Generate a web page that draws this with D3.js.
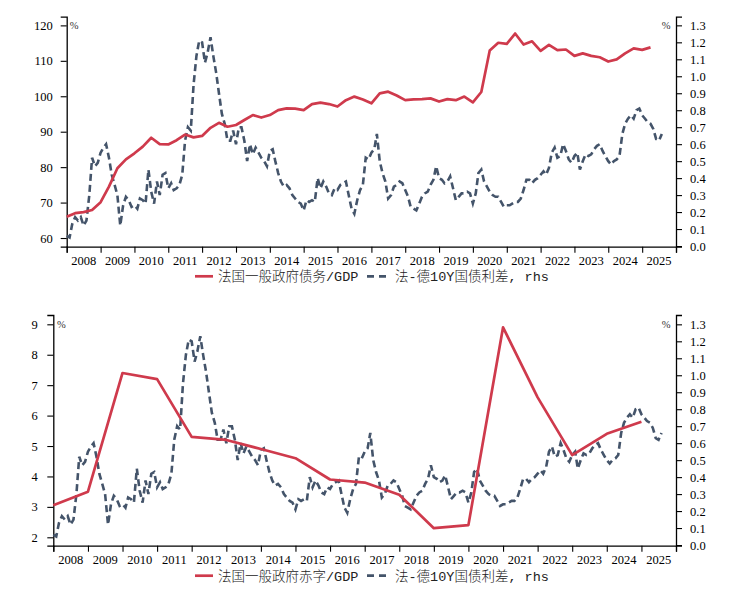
<!DOCTYPE html>
<html><head><meta charset="utf-8">
<script src="https://cdn.jsdelivr.net/npm/d3@7"></script>
<style>
html,body{margin:0;padding:0;background:#fff;}
svg{display:block;}
</style></head>
<body>
<svg id="chart" width="737" height="591"></svg>
<script>
// ---------- DATA ----------
const yearTicks = d3.range(2008, 2027);           // year boundaries
const yearLabels = d3.range(2008, 2026).map(String);

// 法国一般政府债务/GDP, quarterly from 2008Q1
const debtStart = "2008Q1";
const debtValues = [66.0,67.0,67.3,67.9,70.1,74.5,79.7,82.2,83.9,85.8,88.3,86.5,86.4,87.6,89.2,88.4,
  88.8,91.1,92.5,91.4,91.9,93.3,94.7,94.0,94.7,96.1,96.6,96.5,96.1,97.8,98.2,97.8,
  97.1,98.9,99.9,99.1,98.0,100.8,101.3,100.2,98.9,99.1,99.2,99.4,98.5,99.2,98.9,99.9,
  98.3,101.2,112.9,115.1,114.8,117.7,114.6,115.5,112.8,114.5,113.0,113.2,111.4,112.1,
  111.4,111.0,109.8,110.4,112.1,113.5,113.1,113.8];

// 法-德10Y国债利差, monthly from 2008-01
const spreadStart = "2008-01";
const spreadValues = [0.06,0.05,0.13,0.17,0.15,0.17,0.12,0.15,0.30,0.52,0.47,0.49,
  0.55,0.58,0.60,0.52,0.42,0.36,0.30,0.12,0.24,0.29,0.27,0.23,
  0.24,0.22,0.28,0.27,0.25,0.45,0.32,0.25,0.38,0.30,0.42,0.43,
  0.34,0.37,0.33,0.34,0.36,0.42,0.62,0.70,0.68,0.95,1.12,1.21,
  1.20,1.08,1.14,1.23,1.12,1.02,0.90,0.78,0.72,0.62,0.62,0.68,
  0.60,0.70,0.70,0.62,0.50,0.60,0.54,0.58,0.55,0.52,0.50,0.47,
  0.56,0.57,0.50,0.43,0.38,0.35,0.36,0.34,0.30,0.28,0.26,0.25,
  0.21,0.27,0.26,0.27,0.26,0.40,0.34,0.38,0.35,0.31,0.30,0.34,
  0.33,0.36,0.37,0.38,0.30,0.22,0.19,0.27,0.33,0.36,0.52,0.51,
  0.55,0.57,0.66,0.50,0.43,0.38,0.28,0.30,0.35,0.36,0.38,0.37,
  0.33,0.29,0.23,0.22,0.21,0.25,0.29,0.31,0.32,0.36,0.39,0.47,
  0.40,0.39,0.37,0.38,0.41,0.34,0.27,0.29,0.31,0.31,0.32,0.31,
  0.25,0.31,0.43,0.45,0.38,0.35,0.32,0.30,0.29,0.29,0.26,0.23,
  0.24,0.24,0.25,0.26,0.26,0.28,0.33,0.39,0.39,0.37,0.39,0.40,
  0.42,0.44,0.42,0.46,0.55,0.58,0.52,0.53,0.60,0.56,0.51,0.49,
  0.53,0.55,0.45,0.50,0.54,0.53,0.54,0.57,0.59,0.60,0.56,0.53,
  0.50,0.48,0.50,0.51,0.53,0.66,0.72,0.75,0.77,0.75,0.80,0.81,
  0.77,0.75,0.73,0.72,0.69,0.63,0.62,0.66];

// 法国一般政府赤字/GDP, annual points
const deficitYears = d3.range(2008, 2026);
const deficitValues = [3.05,3.5,7.4,7.2,5.3,5.2,4.9,4.6,3.9,3.8,3.4,2.3,2.4,8.9,6.6,4.7,5.4,5.8];

const leftTicksTop = [60,70,80,90,100,110,120];
const leftTicksBot = [2,3,4,5,6,7,8,9];
const rightTicks = d3.range(0, 14).map(d => d / 10);

const legendTop = ["法国一般政府债务/GDP", "法-德10Y国债利差, rhs"];
const legendBot = ["法国一般政府赤字/GDP", "法-德10Y国债利差, rhs"];

// ---------- BUILD ----------
const RED = "#cf3a4c", NAVY = "#44546a";
const svg = d3.select("#chart");
const q0 = +debtStart.slice(0,4);
const debtData = debtValues.map((v,i) => ({d: new Date(q0, 3*i, 1), v}));
const s0 = +spreadStart.slice(0,4), sm0 = +spreadStart.slice(5) - 1;
const spreadData = spreadValues.map((v,i) => ({d: new Date(s0, sm0 + i, 1), v}));
const deficitData = deficitYears.map((y,i) => ({d: new Date(y,0,1), v: deficitValues[i]}));

function panel(cfg) {
  const g = svg.append("g");
  const x = d3.scaleTime().domain([new Date(2008,0,1), new Date(2026,0,1)]).range([cfg.x0, cfg.x1]);
  const yL = d3.scaleLinear().domain(cfg.lDom).range([cfg.yb, cfg.yt]);
  const yR = d3.scaleLinear().domain(cfg.rDom).range([cfg.yb, cfg.yt]);

  const la = g.append("g").attr("transform", `translate(${cfg.x0},0)`)
    .call(d3.axisLeft(yL).tickValues(cfg.lTicks).tickSize(6).tickPadding(cfg.lPad).tickFormat(d3.format("d")));
  const ra = g.append("g").attr("transform", `translate(${cfg.x1},0)`)
    .call(d3.axisRight(yR).tickValues(rightTicks).tickSize(6).tickPadding(8).tickFormat(d3.format(".1f")));
  const ba = g.append("g").attr("transform", `translate(0,${cfg.yb})`)
    .call(d3.axisBottom(x).tickValues(yearTicks.map(y => new Date(y,0,1))).tickSize(6).tickFormat(""));
  [la, ra, ba].forEach(a => {
    a.selectAll("path.domain").attr("stroke", "#000").attr("stroke-width", 1.3);
    a.selectAll(".tick line").attr("stroke", "#000").attr("stroke-width", 1.1);
    a.selectAll("text").attr("font-family", "'Liberation Serif', 'Times New Roman', serif")
      .attr("font-size", 12.5).attr("fill", "#000");
  });
  g.append("g").selectAll("text").data(yearLabels).join("text")
    .attr("x", d => (x(new Date(+d,0,1)) + x(new Date(+d+1,0,1))) / 2)
    .attr("y", cfg.yb + 14).attr("dy", "0.35em").attr("text-anchor", "middle")
    .attr("font-family", "'Liberation Serif', 'Times New Roman', serif").attr("font-size", 12.5)
    .text(d => d);

  g.append("text").attr("x", cfg.x0 + cfg.pctOff).attr("y", yL(cfg.lTicks[cfg.lTicks.length-1])).attr("dy", "0.35em")
    .attr("text-anchor", "middle").attr("font-size", 10.5).attr("font-family", "'Liberation Serif', serif").attr("fill", "#333").text("%");
  g.append("text").attr("x", cfg.x1 - 10).attr("y", yR(1.3)).attr("dy", "0.35em")
    .attr("text-anchor", "middle").attr("font-size", 10.5).attr("font-family", "'Liberation Serif', serif").attr("fill", "#333").text("%");

  g.append("path").datum(spreadData)
    .attr("fill", "none").attr("stroke", NAVY).attr("stroke-width", 2.6)
    .attr("stroke-dasharray", "7,4")
    .attr("d", d3.line().x(d => x(d.d)).y(d => yR(d.v)));
  g.append("path").datum(cfg.main)
    .attr("fill", "none").attr("stroke", RED).attr("stroke-width", 2.7).attr("stroke-linejoin", "round")
    .attr("d", d3.line().x(d => x(d.d)).y(d => yL(d.v)));

  const ly = cfg.legY;
  const lg = g.append("g").attr("font-family", "'Liberation Mono', 'Noto Sans CJK SC', monospace")
    .attr("font-size", 13.5).attr("font-weight", 300).attr("fill", "#222");
  lg.append("line").attr("x1", 195).attr("x2", 213).attr("y1", ly).attr("y2", ly)
    .attr("stroke", RED).attr("stroke-width", 2.7);
  lg.append("text").attr("x", 218).attr("y", ly).attr("dy", "0.36em").text(cfg.legend[0]);
  lg.append("line").attr("x1", 367).attr("x2", 391).attr("y1", ly).attr("y2", ly)
    .attr("stroke", NAVY).attr("stroke-width", 2.7).attr("stroke-dasharray", "7,5");
  lg.append("text").attr("x", 395).attr("y", ly).attr("dy", "0.36em").text(cfg.legend[1]);
}

panel({x0: 66.7, x1: 676, yt: 16.7, yb: 246.7,
  lDom: [57.55, 122.45], rDom: [-0.004, 1.351], lTicks: leftTicksTop, lPad: 8,
  main: debtData, legend: legendTop, legY: 276.3, pctOff: 7.5});
panel({x0: 53.3, x1: 676, yt: 315, yb: 545.7,
  lDom: [1.724, 9.306], rDom: [-0.004, 1.355], lTicks: leftTicksBot, lPad: 9.5,
  main: deficitData, legend: legendBot, legY: 575.7, pctOff: 8});
</script>
</body></html>
